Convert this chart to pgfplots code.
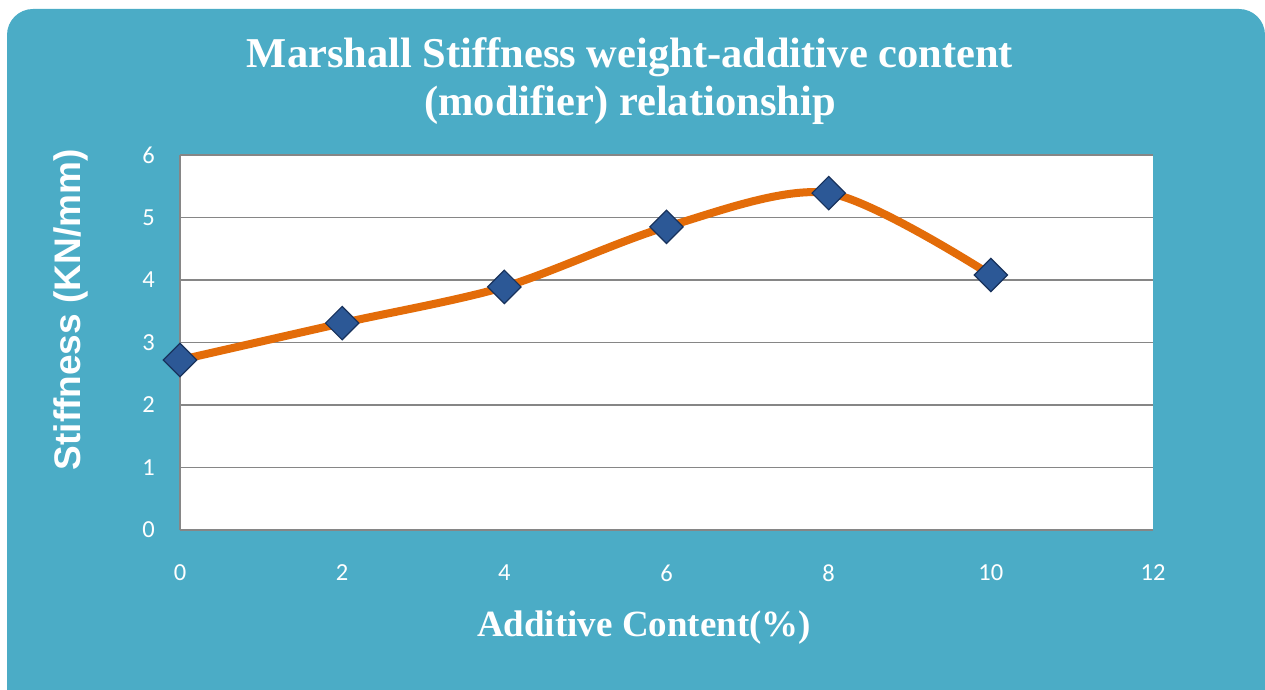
\documentclass[border=0pt]{standalone}
\usepackage{pgfplots}
\pgfplotsset{compat=1.18}
\usepackage{fontspec}
\setmainfont{Liberation Serif}
\newfontfamily\carlito{Carlito}
\newfontfamily\arialfont{Liberation Sans}
\definecolor{bgc}{RGB}{75,172,198}
\definecolor{linec}{RGB}{227,108,9}
\definecolor{markc}{RGB}{44,88,150}
\definecolor{markd}{RGB}{24,50,92}
\definecolor{gridc}{RGB}{134,134,134}
\begin{document}
\begin{tikzpicture}
\useasboundingbox (0pt,0pt) rectangle (1265pt,689pt);
\fill[bgc, rounded corners=26pt] (7pt,-20pt) rectangle (1265pt,680pt);
\fill[bgc] (7pt,-20pt) rectangle (1265pt,10pt);
\fill[bgc, rounded corners=26pt] (7pt,0pt) rectangle (1265pt,60pt);
\node[text=white, align=center, font=\bfseries\fontsize{42.5}{48}\selectfont] at (630pt,608pt)
  {Marshall Stiffness weight-additive content\\(modifier) relationship};
\begin{axis}[
  at={(180pt,159pt)}, anchor=south west,
  scale only axis, width=973pt, height=375pt,
  xmin=0, xmax=12, ymin=0, ymax=6,
  xtick={0,2,4,6,8,10,12}, ytick={0,1,2,3,4,5,6},
  axis background/.style={fill=white},
  axis x line*=bottom, axis y line*=left,
  axis line style={draw=gridc, line width=1.5pt, -},
  ymajorgrids, grid style={draw=gridc, line width=1.5pt},
  major tick length=0pt,
  /pgf/number format/assume math mode=true,
  tick label style={text=white, font=\carlito\fontsize{24.5}{24.5}\selectfont},
  x tick label style={anchor=center, yshift=-43pt},
  y tick label style={anchor=east, inner sep=0pt, xshift=-25pt},
  xlabel={Additive Content(\%)},
  ylabel={Stiffness (KN/mm)},
  x label style={at={(axis description cs:0.477,-0.259)}, anchor=center, text=white, font=\bfseries\fontsize{37}{37}\selectfont},
  y label style={at={(axis description cs:-0.112,0.587)}, anchor=center, rotate=0, text=white, font=\arialfont\bfseries\fontsize{37}{37}\selectfont},
  clip=false,
]
\addplot[color=linec, line width=8pt, smooth, tension=0.5,
  mark=square*, mark size=11.8pt,
  mark options={rotate=45, fill=markc, draw=markd, line width=1.2pt}]
  coordinates {(0,2.72) (2,3.31) (4,3.89) (6,4.85) (8,5.39) (10,4.08)};
\end{axis}
\end{tikzpicture}
\end{document}
